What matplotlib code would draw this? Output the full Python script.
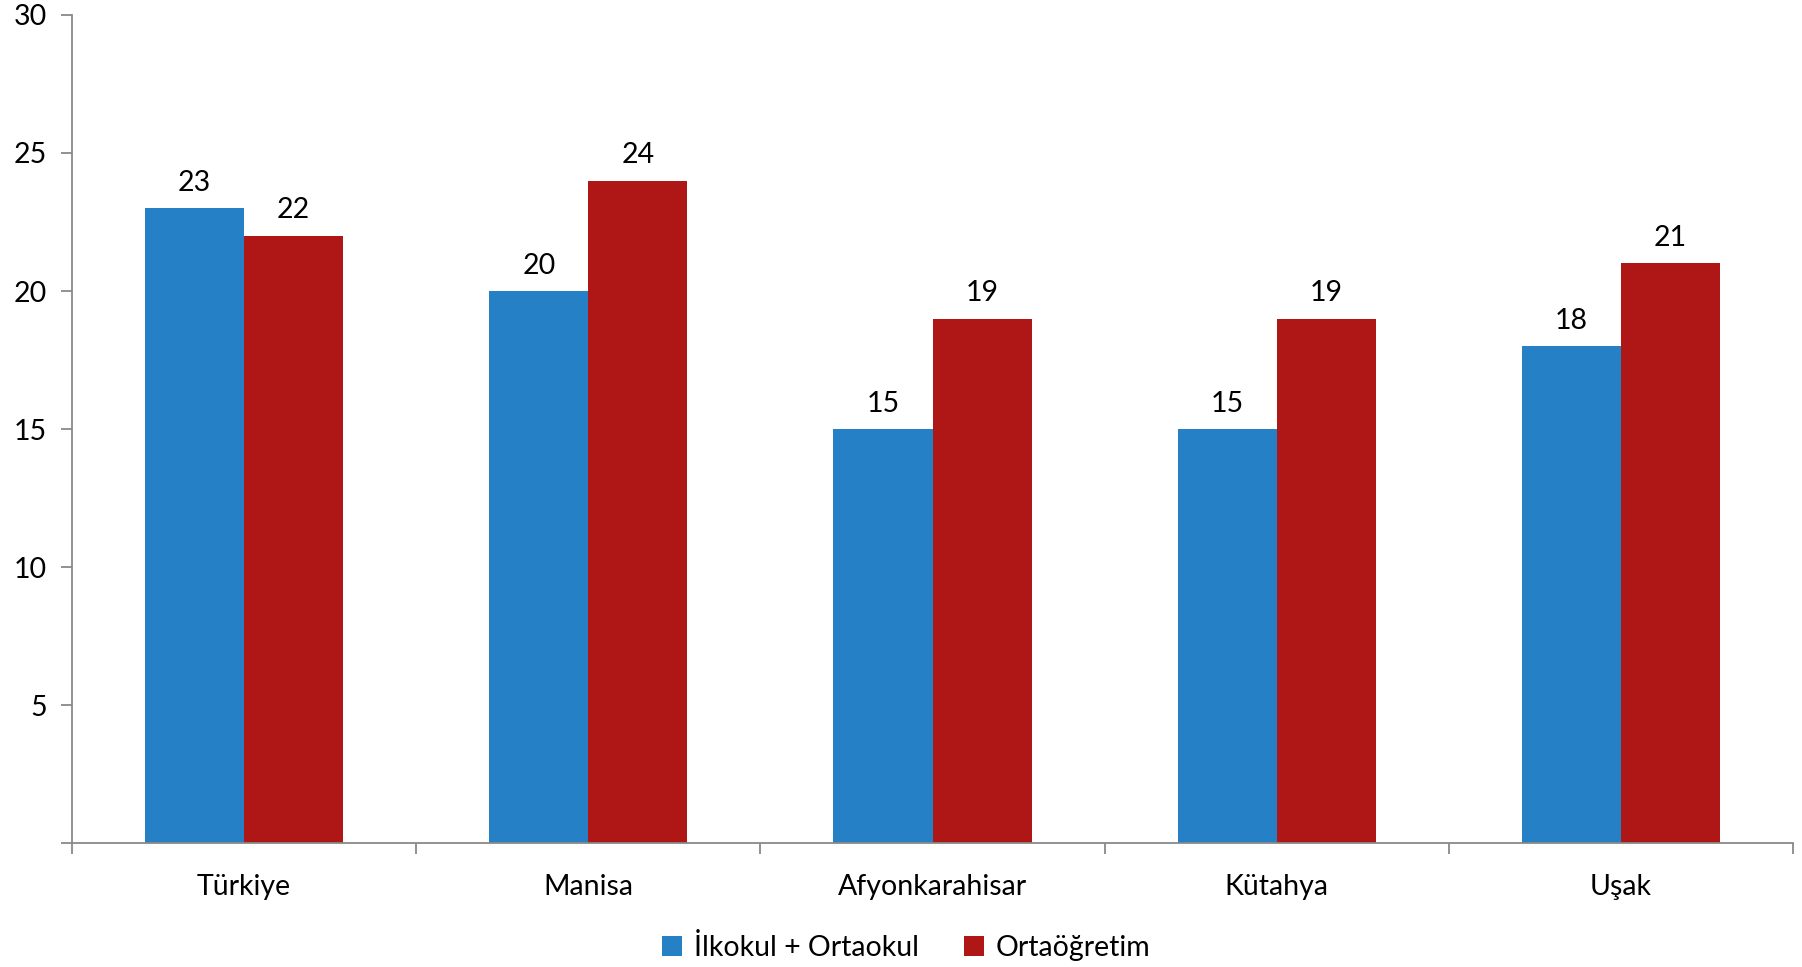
import matplotlib
matplotlib.use("Agg")
import matplotlib.pyplot as plt
import numpy as np

# values
provinces = ["Türkiye", "Manisa", "Afyonkarahisar", "Kütahya", "Uşak"]
ilk_orta = [23, 20, 15, 15, 18]
ortaogretim = [22, 24, 19, 19, 21]
series_names = ["İlkokul + Ortaokul", "Ortaöğretim"]
y_ticks = [0, 5, 10, 15, 20, 25, 30]

blue = "#2680C6"
red = "#AF1717"
axis_gray = "#898989"

plt.rcParams["font.family"] = ["Lato", "DejaVu Sans"]
fs = 20.5

fig = plt.figure(figsize=(18.02, 9.67), dpi=100)
ax = fig.add_axes([0.0400, 0.1282, 0.9550, 0.8563])

x = np.arange(len(provinces))
w = 0.288
b1 = ax.bar(x - w / 2, ilk_orta, w, color=blue, label=series_names[0])
b2 = ax.bar(x + w / 2, ortaogretim, w, color=red, label=series_names[1])

for bars in (b1, b2):
    for r in bars:
        ax.annotate(str(int(r.get_height())),
                    (r.get_x() + r.get_width() / 2, r.get_height()),
                    xytext=(0, 9), textcoords="offset points",
                    ha="center", va="bottom", fontsize=fs, color="black")

ax.set_xlim(-0.5, len(provinces) - 0.5)
ax.set_ylim(0, 30)
ax.set_yticks(y_ticks)
ax.set_yticklabels(["" if t == 0 else str(t) for t in y_ticks])

# category labels centered, ticks at category boundaries
ax.set_xticks(x)
ax.set_xticklabels(provinces)
ax.set_xticks(np.arange(-0.5, len(provinces)), minor=True)
ax.tick_params(axis="x", which="major", length=0, pad=22, labelsize=fs)
ax.tick_params(axis="x", which="minor", length=8, width=1.3, color=axis_gray, direction="out")
ax.tick_params(axis="y", length=8, width=1.3, color=axis_gray, pad=10, labelsize=fs)

for s in ("top", "right"):
    ax.spines[s].set_visible(False)
for s in ("left", "bottom"):
    ax.spines[s].set_color(axis_gray)
    ax.spines[s].set_linewidth(1.3)

fig.legend(loc="center", bbox_to_anchor=(0.503, 0.02), ncol=2, frameon=False,
           fontsize=fs, handlelength=0.7, handleheight=0.7, handletextpad=0.4,
           columnspacing=1.6)

fig.savefig("out.png", dpi=100)
